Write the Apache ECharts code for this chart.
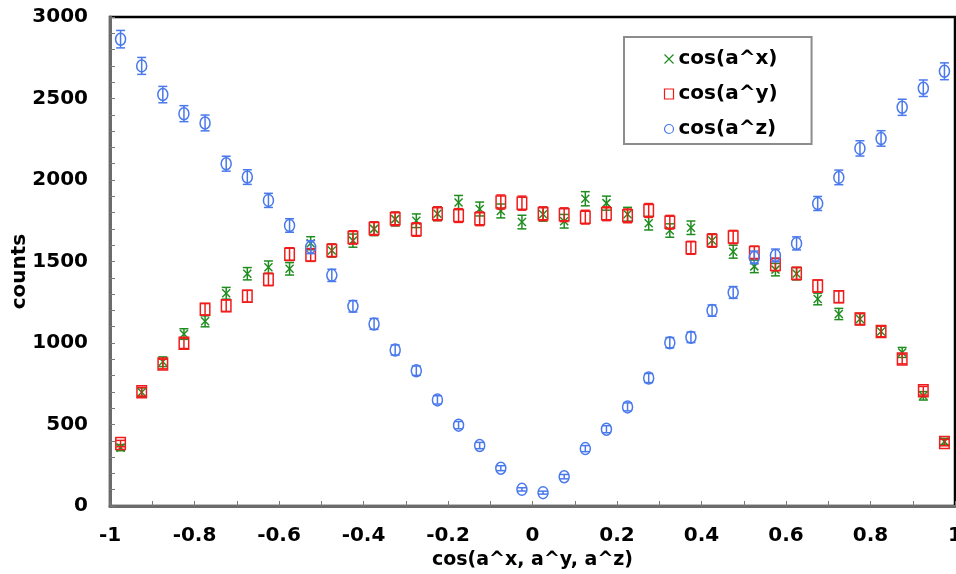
<!DOCTYPE html>
<html>
<head>
<meta charset="utf-8">
<script src="https://cdn.jsdelivr.net/npm/echarts@6/dist/echarts.min.js"></script>
<style>
  html, body { margin: 0; padding: 0; background: #ffffff; }
  #chart { width: 956px; height: 574px; }
</style>
</head>
<body>
<div id="chart"></div>
<script>
// Bin centres of the cosine histogram (40 bins of width 0.05 on [-1, 1])
const binCenters = [
  -0.975, -0.925, -0.875, -0.825, -0.775, -0.725, -0.675, -0.625, -0.575, -0.525,
  -0.475, -0.425, -0.375, -0.325, -0.275, -0.225, -0.175, -0.125, -0.075, -0.025,
   0.025,  0.075,  0.125,  0.175,  0.225,  0.275,  0.325,  0.375,  0.425,  0.475,
   0.525,  0.575,  0.625,  0.675,  0.725,  0.775,  0.825,  0.875,  0.925,  0.975
];

// Counts per bin
const countsX = [
   358,  698,  885, 1055, 1133, 1305, 1425, 1465, 1455, 1612,
  1567, 1628, 1700, 1760, 1750, 1793, 1862, 1822, 1810, 1742,
  1790, 1747, 1885, 1858, 1790, 1735, 1690, 1707, 1629, 1560,
  1470, 1450, 1425, 1270, 1178, 1147, 1071,  942,  676,  395
];
const countsY = [
   383,  701,  871,  998, 1207, 1229, 1287, 1390, 1545, 1540,
  1568, 1648, 1702, 1762, 1696, 1793, 1782, 1762, 1865, 1858,
  1793, 1787, 1772, 1793, 1780, 1813, 1741, 1584, 1629, 1650,
  1555, 1482, 1427, 1350, 1284, 1147, 1071,  902,  707,  389
];
const countsZ = [
  2864, 2700, 2524, 2407, 2350, 2100, 2018, 1875, 1721, 1588,
  1415, 1225, 1117,  957,  830,  651,  496,  371,  232,  102,
    82,  180,  352,  471,  608,  785, 1002, 1035, 1199, 1310,
  1525, 1537, 1611, 1856, 2016, 2194, 2255, 2446, 2563, 2667
];

const seriesNames = ['cos(a^x)', 'cos(a^y)', 'cos(a^z)'];
const seriesColors = ['#1f8c1f', '#f01c1c', '#4a79ec'];
const xTitle = 'cos(a^x, a^y, a^z)';
const yTitle = 'counts';

const FONT = 'DejaVu Sans';

// [x, count, poisson error]
function buildData(counts) {
  return binCenters.map((x, i) => [x, counts[i], Math.sqrt(counts[i])]);
}

// Error bar with caps plus an open marker drawn at the bin centre
function makeRenderer(shape, color) {
  return function (params, api) {
    const x = api.value(0), y = api.value(1), e = api.value(2);
    const c = api.coord([x, y]);
    const yTop = api.coord([x, y + e])[1];
    const yBot = api.coord([x, y - e])[1];
    const cap = 4.5;
    const st = { stroke: color, lineWidth: 1.5, fill: 'none' };
    const kids = [
      { type: 'line', shape: { x1: c[0], y1: yTop, x2: c[0], y2: yBot }, style: st },
      { type: 'line', shape: { x1: c[0] - cap, y1: yTop, x2: c[0] + cap, y2: yTop }, style: st },
      { type: 'line', shape: { x1: c[0] - cap, y1: yBot, x2: c[0] + cap, y2: yBot }, style: st }
    ];
    if (shape === 'cross') {
      const h = 4;
      kids.push({ type: 'line', shape: { x1: c[0] - h, y1: c[1] - h, x2: c[0] + h, y2: c[1] + h }, style: st });
      kids.push({ type: 'line', shape: { x1: c[0] - h, y1: c[1] + h, x2: c[0] + h, y2: c[1] - h }, style: st });
    } else if (shape === 'rect') {
      kids.push({ type: 'rect', shape: { x: c[0] - 4.75, y: c[1] - 6, width: 9.5, height: 12 }, style: st });
    } else {
      kids.push({ type: 'ellipse', shape: { cx: c[0], cy: c[1], rx: 5, ry: 6 }, style: st });
    }
    return { type: 'group', children: kids };
  };
}

const labelStyle = { fontFamily: FONT, fontWeight: 'bold', fontSize: 20, color: '#000' };
const tickStyle = { color: '#7a7a7a', width: 1 };

const option = {
  animation: false,
  backgroundColor: '#ffffff',
  grid: {
    left: 110, right: 1, top: 17, bottom: 68,
    show: true, borderColor: '#000', borderWidth: 2.5,
    containLabel: false, outerBoundsMode: 'none'
  },
  legend: {
    orient: 'vertical', left: 624, top: 37,
    padding: [12, 34, 5, 38], itemGap: 15,
    itemWidth: 9, itemHeight: 10,
    borderColor: '#8c8c8c', borderWidth: 2, backgroundColor: '#ffffff',
    textStyle: labelStyle,
    data: [
      { name: seriesNames[0], icon: 'path://M0,0L10,10M10,0L0,10',
        itemStyle: { color: 'none', borderColor: seriesColors[0], borderWidth: 1.2 } },
      { name: seriesNames[1], icon: 'rect',
        itemStyle: { color: 'none', borderColor: seriesColors[1], borderWidth: 1.2 } },
      { name: seriesNames[2], icon: 'circle',
        itemStyle: { color: 'none', borderColor: seriesColors[2], borderWidth: 1.2 } }
    ]
  },
  xAxis: {
    type: 'value', min: -1, max: 1, interval: 0.2,
    axisLine: { onZero: false, lineStyle: { color: '#6b6b6b', width: 3 } },
    axisTick: { inside: true, length: 5, lineStyle: tickStyle },
    minorTick: { show: true, splitNumber: 2, length: 5, lineStyle: tickStyle },
    splitLine: { show: false },
    axisLabel: Object.assign({ margin: 20, formatter: v => String(v) }, labelStyle),
    name: xTitle, nameLocation: 'middle', nameGap: 45, nameMoveOverlap: false,
    nameTextStyle: { fontFamily: FONT, fontWeight: 'bold', fontSize: 19, color: '#000' }
  },
  yAxis: {
    type: 'value', min: 0, max: 3000, interval: 500,
    axisLine: { show: true, onZero: false, lineStyle: { color: '#6b6b6b', width: 3 } },
    axisTick: { show: true, inside: true, length: 5, lineStyle: tickStyle },
    minorTick: { show: true, splitNumber: 5, length: 5, lineStyle: tickStyle },
    splitLine: { show: false },
    axisLabel: Object.assign({ margin: 22, padding: [7, 0, 0, 0], formatter: v => String(v) }, labelStyle),
    name: yTitle, nameLocation: 'middle', nameGap: 80, nameMoveOverlap: false,
    nameTextStyle: { fontFamily: FONT, fontWeight: 'bold', fontSize: 20, color: '#000',
      padding: [0, 20, 0, 0] }
  },
  series: [
    { name: seriesNames[0], type: 'custom', data: buildData(countsX),
      encode: { x: 0, y: 1 }, itemStyle: { color: seriesColors[0] },
      renderItem: makeRenderer('cross', seriesColors[0]) },
    { name: seriesNames[1], type: 'custom', data: buildData(countsY),
      encode: { x: 0, y: 1 }, itemStyle: { color: seriesColors[1] },
      renderItem: makeRenderer('rect', seriesColors[1]) },
    { name: seriesNames[2], type: 'custom', data: buildData(countsZ),
      encode: { x: 0, y: 1 }, itemStyle: { color: seriesColors[2] },
      renderItem: makeRenderer('ellipse', seriesColors[2]) }
  ]
};

const chart = echarts.init(document.getElementById('chart'), null, { renderer: 'canvas' });
chart.setOption(option);
</script>
</body>
</html>
